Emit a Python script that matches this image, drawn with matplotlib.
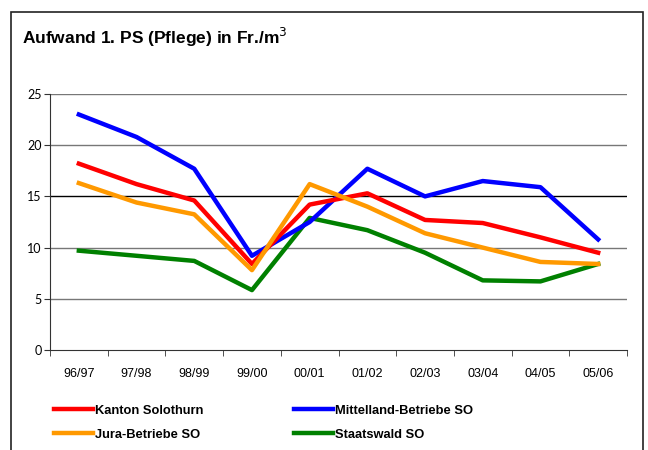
import matplotlib.pyplot as plt
import matplotlib.patches as mpatches

years = ["96/97", "97/98", "98/99", "99/00", "00/01",
         "01/02", "02/03", "03/04", "04/05", "05/06"]
kanton = [18.2, 16.2, 14.6, 8.4, 14.2, 15.3, 12.7, 12.4, 11.0, 9.5]
mittelland = [23.0, 20.8, 17.7, 9.2, 12.5, 17.7, 15.0, 16.5, 15.9, 10.8]
jura = [16.3, 14.4, 13.25, 7.8, 16.2, 14.0, 11.4, 10.0, 8.6, 8.4]
staatswald = [9.7, 9.2, 8.7, 5.85, 12.9, 11.7, 9.5, 6.8, 6.7, 8.4]

fig = plt.figure(figsize=(6.48, 4.5), dpi=100)
fig.patch.set_facecolor("white")

# aeusserer Rahmen
frame = mpatches.Rectangle((11 / 648, -0.1), 632 / 648, 1 - 12 / 450 + 0.1,
                           transform=fig.transFigure, fill=False,
                           edgecolor="#222222", linewidth=1.2)
fig.patches.append(frame)

fig.text(22 / 648, 1 - 44 / 450, "Aufwand 1. PS (Pflege) in Fr./m$^3$",
         fontsize=12.5, fontweight="bold", family="Liberation Sans",
         ha="left", va="baseline")

ax = fig.add_axes([50 / 648, 1 - 350 / 450, 577 / 648, 256 / 450])
x = list(range(len(years)))
lw = 3.2
l1, = ax.plot(x, kanton, color="#ff0000", lw=lw, label="Kanton Solothurn", zorder=4)
l2, = ax.plot(x, mittelland, color="#0000ff", lw=lw, label="Mittelland-Betriebe SO", zorder=3)
l3, = ax.plot(x, jura, color="#ff9900", lw=lw, label="Jura-Betriebe SO", zorder=5)
l4, = ax.plot(x, staatswald, color="#008000", lw=lw, label="Staatswald SO", zorder=2)

ax.set_xlim(-0.5, len(years) - 0.5)
ax.set_ylim(0, 25)
ax.set_yticks([0, 5, 10, 15, 20, 25])
ax.set_xticks(x)
ax.set_xticklabels(years)
ax.set_xticks([i - 0.5 for i in range(len(years) + 1)], minor=True)
ax.tick_params(axis="x", which="major", length=0, pad=13)
ax.tick_params(axis="x", which="minor", length=4, direction="out", color="#333333")
ax.tick_params(axis="y", length=4, direction="out", color="#333333", pad=2)
for lab in ax.get_xticklabels():
    lab.set_fontsize(9)
    lab.set_family("Liberation Sans")
for lab in ax.get_yticklabels():
    lab.set_fontsize(9)
    lab.set_family("Lato")

for v in [5, 10, 20, 25]:
    ax.axhline(v, color="#777777", lw=1.0, zorder=1)
ax.axhline(15, color="black", lw=1.0, zorder=1)

for s in ["top", "right"]:
    ax.spines[s].set_visible(False)
ax.spines["left"].set_color("#333333")
ax.spines["bottom"].set_color("#333333")

fig.legend(handles=[l1, l3, l2, l4], ncol=2, loc="upper left",
           bbox_to_anchor=(48 / 648, 1 - 398 / 450), frameon=False,
           prop={"family": "Liberation Sans", "weight": "bold", "size": 9.3},
           handlelength=3.0, handletextpad=0.15, columnspacing=7.0,
           labelspacing=0.95, borderpad=0)

fig.savefig("out.png", dpi=100, facecolor="white")
